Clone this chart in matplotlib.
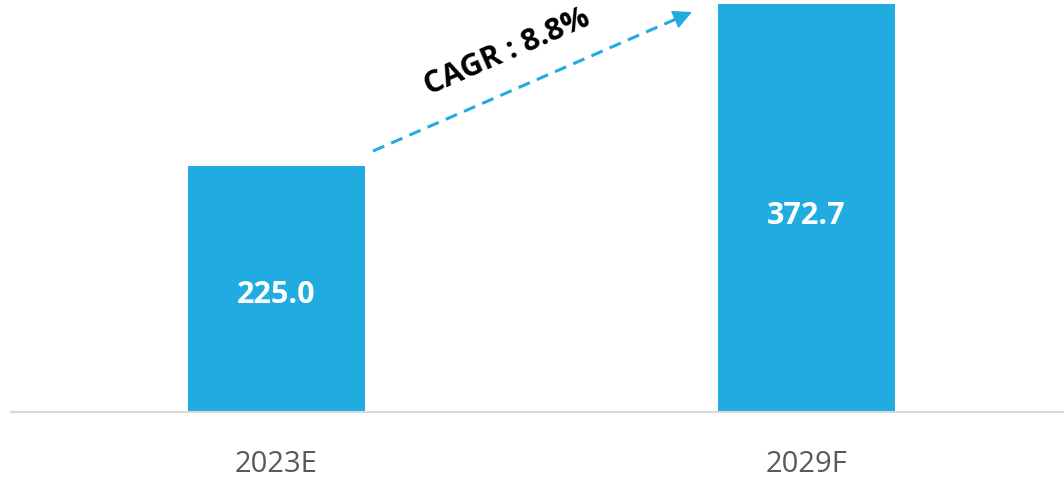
import matplotlib
matplotlib.use("Agg")
import matplotlib.pyplot as plt

categories = ["2023E", "2029F"]
values = [225.0, 372.7]
value_labels = ["225.0", "372.7"]
cagr_label = "CAGR : 8.8%"

bar_color = "#20ACE1"
plt.rcParams['font.family'] = ['Open Sans', 'DejaVu Sans']

fig = plt.figure(figsize=(10.64, 4.79), dpi=100)
ax = fig.add_axes([11/1064, 67/479, 1 - 11/1064, 412/479])

x = list(range(len(categories)))
bars = ax.bar(x, values, width=0.334, color=bar_color, zorder=2)

ax.set_xlim(-0.501, 1.486)
ax.set_ylim(0, 376.4)

for xi, v, lab in zip(x, values, value_labels):
    ax.text(xi, v * 0.49, lab, ha='center', va='center_baseline',
            color='white', fontsize=22, fontweight='bold')

ax.set_xticks(x)
ax.set_xticklabels(categories, fontsize=21, color='#595959')
ax.tick_params(axis='x', length=0, pad=27)
ax.set_yticks([])
for s in ['top', 'right', 'left']:
    ax.spines[s].set_visible(False)
ax.spines['bottom'].set_color('#d9d9d9')
ax.spines['bottom'].set_linewidth(1.5)

# CAGR arrow
x0, y0, x1, y1 = 0.182, 238.4, 0.784, 365.4
ax.plot([x0, x0 + (x1 - x0) * 0.96], [y0, y0 + (y1 - y0) * 0.96],
        color=bar_color, lw=2.2, linestyle=(0, (4, 2.5)), solid_capstyle='butt')
ax.annotate('', xy=(x1, y1), xytext=(x0 + (x1 - x0) * 0.95, y0 + (y1 - y0) * 0.95),
            arrowprops=dict(arrowstyle='-|>,head_length=1.2,head_width=0.6',
                            color=bar_color, lw=1, shrinkA=0, shrinkB=0))
ax.text(0.435, 329, cagr_label, rotation=23.5, rotation_mode='anchor',
        ha='center', va='center', fontsize=22, fontweight='bold', color='black')

fig.savefig("out.png", dpi=100)
